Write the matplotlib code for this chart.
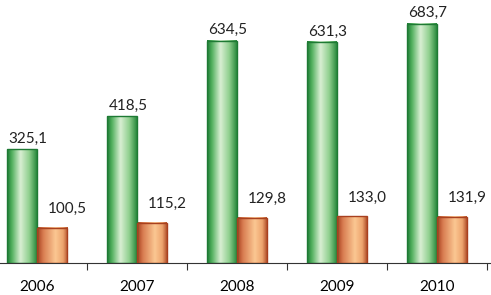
import numpy as np
import matplotlib
matplotlib.use("Agg")
import matplotlib.pyplot as plt
from matplotlib.colors import LinearSegmentedColormap
from matplotlib.patches import Rectangle

years = ["2006", "2007", "2008", "2009", "2010"]
green_vals = [325.1, 418.5, 634.5, 631.3, 683.7]
orange_vals = [100.5, 115.2, 129.8, 133.0, 131.9]

plt.rcParams['font.family'] = ['Lato', 'DejaVu Sans']

green_cmap = LinearSegmentedColormap.from_list(
    "g", [(0, "#1e7a34"), (0.15, "#4fae5c"), (0.45, "#d9efd3"),
          (0.75, "#8fcf8e"), (1, "#2a8a3e")])
orange_cmap = LinearSegmentedColormap.from_list(
    "o", [(0, "#a8401f"), (0.2, "#d97e52"), (0.6, "#fbc792"),
          (0.85, "#eda46e"), (1, "#b5542e")])

fig = plt.figure(figsize=(4.91, 2.95), dpi=100)
ax = fig.add_axes([0, 32 / 295, 1, 263 / 295])

w = 0.3
grad = np.linspace(0, 1, 64).reshape(1, -1)


def gradient_bar(x0, h, cmap, edge):
    ax.imshow(grad, extent=[x0, x0 + w, 0, h], aspect='auto', cmap=cmap,
              zorder=2, interpolation='bilinear')
    ax.add_patch(Rectangle((x0, 0), w, h, fill=False, edgecolor=edge,
                           linewidth=1, zorder=3))


for i in range(len(years)):
    gradient_bar(i - w, green_vals[i], green_cmap, "#1e7a34")
    gradient_bar(i, orange_vals[i], orange_cmap, "#a8401f")
    ax.text(i - w / 2 + 0.06, green_vals[i] + 10, f"{green_vals[i]:.1f}".replace(".", ","),
            ha='center', va='bottom', fontsize=11, color="#222222")
    ax.text(i + w / 2 + 0.15, orange_vals[i] + 33, f"{orange_vals[i]:.1f}".replace(".", ","),
            ha='center', va='bottom', fontsize=11, color="#222222")

ax.set_xlim(-0.37, 4.54)
ax.set_ylim(0, 751)
ax.set_xticks(np.arange(0.5, 5, 1), minor=False)
ax.set_xticklabels([])
ax.set_xticks(range(len(years)), minor=True)
ax.set_xticklabels(years, minor=True, fontsize=11)
ax.tick_params(axis='x', which='major', length=5, direction='out', color="#333333")
ax.tick_params(axis='x', which='minor', length=0, pad=12)
ax.set_yticks([])
for s in ['top', 'right', 'left']:
    ax.spines[s].set_visible(False)
ax.spines['bottom'].set_color("#333333")

fig.savefig("out.png", dpi=100)
